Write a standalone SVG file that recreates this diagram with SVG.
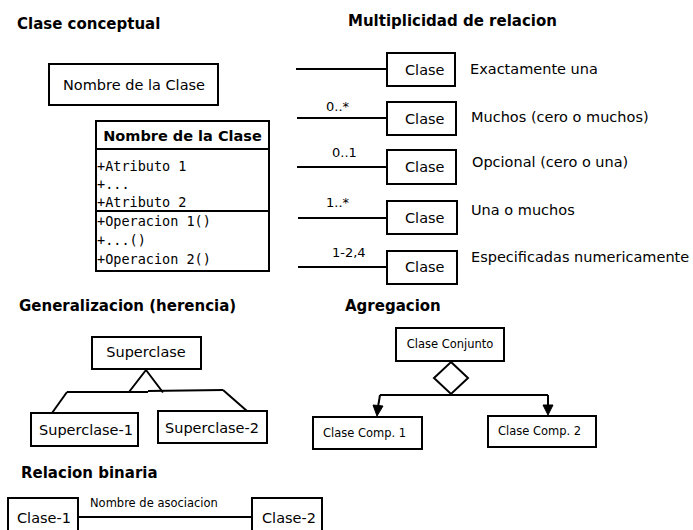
<svg xmlns="http://www.w3.org/2000/svg" width="693" height="530" viewBox="0 0 693 530">
<style>
.bg{fill:#fff}
.box{fill:#fff;stroke:#000;stroke-width:2}
.ln{fill:none;stroke:#000;stroke-width:2}
.h{font-family:"DejaVu Sans","Liberation Sans",sans-serif;font-weight:bold;font-size:15px;fill:#000}
.t{font-family:"DejaVu Sans","Liberation Sans",sans-serif;font-size:14.5px;fill:#000}
.s{font-family:"DejaVu Sans","Liberation Sans",sans-serif;font-size:11.5px;fill:#000}
.m{font-family:"DejaVu Sans","Liberation Sans",sans-serif;font-size:13px;fill:#000}
.mono{font-family:"DejaVu Sans Mono","Liberation Mono",monospace;font-size:13.5px;fill:#000}
.bt{font-family:"DejaVu Sans","Liberation Sans",sans-serif;font-weight:bold;font-size:14.5px;fill:#000}
</style>
<rect class="bg" x="0" y="0" width="693" height="530"/>

<g id="headings">
<text class="h" x="17" y="29">Clase conceptual</text>
<text class="h" x="348" y="26">Multiplicidad de relacion</text>
<text class="h" x="19" y="311">Generalizacion (herencia)</text>
<text class="h" x="345" y="311">Agregacion</text>
<text class="h" x="21" y="478">Relacion binaria</text>
</g>

<g id="clase-simple">
<rect class="box" x="49" y="64" width="169" height="41"/>
<text class="t" x="134" y="90" text-anchor="middle">Nombre de la Clase</text>
</g>

<g id="clase-completa">
<rect class="box" x="96" y="121" width="173" height="150"/>
<line class="ln" x1="96" y1="149" x2="269" y2="149"/>
<line class="ln" x1="96" y1="211" x2="269" y2="211"/>
<text class="bt" x="182.5" y="141" text-anchor="middle">Nombre de la Clase</text>
<text class="mono" x="97" y="171">+Atributo 1</text>
<text class="mono" x="97" y="189">+...</text>
<text class="mono" x="97" y="207">+Atributo 2</text>
<text class="mono" x="97" y="226">+Operacion 1()</text>
<text class="mono" x="97" y="245">+...()</text>
<text class="mono" x="97" y="264">+Operacion 2()</text>
</g>

<g id="mult-1">
<rect class="box" x="387" y="53" width="68" height="33"/>
<text class="t" x="405" y="75">Clase</text>
<text class="t" x="470" y="74">Exactamente una</text>
</g>
<g id="mult-2">
<rect class="box" x="387" y="102" width="69" height="33"/>
<text class="t" x="405" y="124">Clase</text>
<text class="m" x="326" y="111">0..*</text>
<text class="t" x="471" y="122">Muchos (cero o muchos)</text>
</g>
<g id="mult-3">
<rect class="box" x="387" y="150" width="69" height="34"/>
<text class="t" x="405" y="172">Clase</text>
<text class="m" x="332" y="157">0..1</text>
<text class="t" x="472" y="167">Opcional (cero o una)</text>
</g>
<g id="mult-4">
<rect class="box" x="387" y="201" width="70" height="33"/>
<text class="t" x="405" y="223">Clase</text>
<text class="m" x="326" y="207">1..*</text>
<text class="t" x="471" y="215">Una o muchos</text>
</g>
<g id="mult-5">
<rect class="box" x="387" y="251" width="70" height="33"/>
<text class="t" x="405" y="272">Clase</text>
<text class="m" x="332" y="257">1-2,4</text>
<text class="t" x="471" y="262">Especificadas numericamente</text>
</g>

<g id="superclase">
<rect class="box" x="92" y="337" width="109" height="32"/>
<text class="t" x="146" y="357" text-anchor="middle">Superclase</text>
</g>
<g id="superclase-1">
<rect class="box" x="31" y="413" width="107" height="33"/>
<text class="t" x="39" y="435">Superclase-1</text>
</g>
<g id="superclase-2">
<rect class="box" x="158" y="411" width="109" height="32"/>
<text class="t" x="165" y="433">Superclase-2</text>
</g>

<g id="clase-conjunto">
<rect class="box" x="396" y="328" width="108" height="33"/>
<text class="s" x="450" y="348" text-anchor="middle">Clase Conjunto</text>
</g>
<g id="clase-comp-1">
<rect class="box" x="313" y="417" width="109" height="32"/>
<text class="s" x="323" y="437">Clase Comp. 1</text>
</g>
<g id="clase-comp-2">
<rect class="box" x="488" y="416" width="108" height="31"/>
<text class="s" x="498" y="435">Clase Comp. 2</text>
</g>

<g id="clase-1">
<rect class="box" x="8" y="498" width="70" height="40"/>
<text class="t" x="17" y="523">Clase-1</text>
</g>
<g id="clase-2">
<rect class="box" x="252" y="498" width="70" height="40"/>
<text class="t" x="262" y="523">Clase-2</text>
</g>

<g id="connectors">
<line class="ln" x1="296" y1="69" x2="387" y2="69"/>
<line class="ln" x1="297" y1="118" x2="387" y2="118"/>
<line class="ln" x1="297" y1="167" x2="387" y2="167"/>
<line class="ln" x1="298" y1="218" x2="387" y2="218"/>
<line class="ln" x1="298" y1="267" x2="387" y2="267"/>

<path class="ln" d="M146,370 L129,392 M146,370 L163,392.5"/>
<path class="ln" d="M67,392 L129,392 M129,392 L148,392 M148,391 L223,390"/>
<path class="ln" d="M67,392 L52,413"/>
<path class="ln" d="M223,390 L247,411"/>

<path d="M451,362 L468,378 L451,394 L434,378 Z" fill="#fff" stroke="#000" stroke-width="2"/>
<path class="ln" d="M380,395 L548,395"/>
<path class="ln" d="M380,395 L378,407"/>
<path d="M373,405 L383,406 L377,416 Z" fill="#000" stroke="#000" stroke-width="1"/>
<path class="ln" d="M548,395 L548,406"/>
<path d="M543,405 L553,405 L548,415 Z" fill="#000" stroke="#000" stroke-width="1"/>

<line class="ln" x1="78" y1="517" x2="252" y2="517"/>
<text class="s" x="90" y="507">Nombre de asociacion</text>
</g>
</svg>
